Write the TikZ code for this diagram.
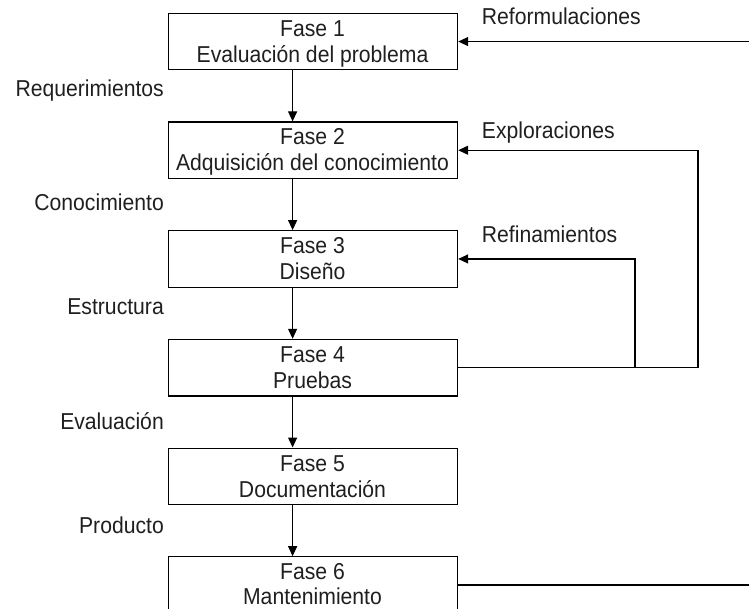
\documentclass[tikz,border=0pt]{standalone}
\usepackage{fontspec}
\setmainfont[FakeStretch=0.92]{Liberation Sans}
\usetikzlibrary{arrows.meta}
\begin{document}
\begin{tikzpicture}[x=1pt,y=-1pt,
  phase/.style={draw, line width=1.2pt, minimum width=289pt, minimum height=56.5pt,
                inner sep=0pt, anchor=north west},
  txt/.style={font=\fontsize{23}{26}\selectfont, text=black!88, inner sep=0pt, anchor=base},
  lbl/.style={font=\fontsize{23}{26}\selectfont, text=black!88, inner sep=0pt},
  link/.style={line width=1.2pt},
  arr/.style={link, -{Triangle[length=10pt,width=9pt]}}]
\useasboundingbox (0,0) rectangle (749,609);
\clip (0,0) rectangle (749,609);

% phase boxes
\node[phase] (b1) at (168,12.7)  {};
\node[phase] (b2) at (168,121.4) {};
\node[phase] (b3) at (168,230.1) {};
\node[phase] (b4) at (168,338.8) {};
\node[phase] (b5) at (168,447.5) {};
\node[phase] (b6) at (168,556.2) {};

% box texts
\node[txt] (t1a) at (312.5,36.2)  {Fase 1};
\node[txt] (t1b) at (312.5,62.2)  {Evaluación del problema};
\node[txt] (t2a) at (312.5,144.9) {Fase 2};
\node[txt] (t2b) at (312.5,170.9) {Adquisición del conocimiento};
\node[txt] (t3a) at (312.5,253.6) {Fase 3};
\node[txt] (t3b) at (312.5,279.6) {Diseño};
\node[txt] (t4a) at (312.5,362.3) {Fase 4};
\node[txt] (t4b) at (312.5,388.3) {Pruebas};
\node[txt] (t5a) at (312.5,471.0) {Fase 5};
\node[txt] (t5b) at (312.5,497.0) {Documentación};
\node[txt] (t6a) at (312.5,579.7) {Fase 6};
\node[txt] (t6b) at (312.5,604.5) {Mantenimiento};

% flow between phases
\draw[arr] ([xshift=-20.5pt]b1.south) -- ([xshift=-20.5pt]b2.north);
\draw[arr] ([xshift=-20.5pt]b2.south) -- ([xshift=-20.5pt]b3.north);
\draw[arr] ([xshift=-20.5pt]b3.south) -- ([xshift=-20.5pt]b4.north);
\draw[arr] ([xshift=-20.5pt]b4.south) -- ([xshift=-20.5pt]b5.north);
\draw[arr] ([xshift=-20.5pt]b5.south) -- ([xshift=-20.5pt]b6.north);

% products of each phase
\node[lbl, anchor=base east] (l1) at (164,96.7)  {Requerimientos};
\node[lbl, anchor=base east] (l2) at (164,210.7) {Conocimiento};
\node[lbl, anchor=base east] (l3) at (164,315)   {Estructura};
\node[lbl, anchor=base east] (l4) at (164,429)   {Evaluación};
\node[lbl, anchor=base east] (l5) at (164,533)   {Producto};

% feedback loops
\coordinate (inner) at (635,0);
\coordinate (outer) at (698,0);
\coordinate (rim)   at (760,0);
\draw[arr] (b1.east -| rim) -- (b1.east);
\draw[arr] (b4.east) -- (b4.east -| outer) -- (b2.east -| outer) -- (b2.east);
\draw[arr] (b4.east -| inner) -- (b3.east -| inner) -- (b3.east);
\draw[link] (b6.east) -- (b6.east -| rim);

\node[lbl, anchor=base west] (r1) at (481.7,25)    {Reformulaciones};
\node[lbl, anchor=base west] (r2) at (481.7,138.3) {Exploraciones};
\node[lbl, anchor=base west] (r3) at (481.7,243)   {Refinamientos};
\end{tikzpicture}
\end{document}
